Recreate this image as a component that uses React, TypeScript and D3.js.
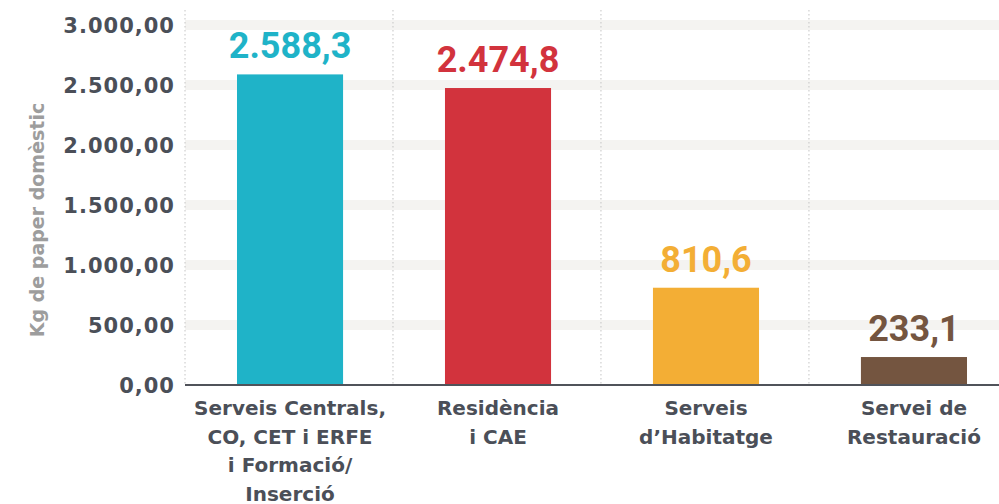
import React from 'react'
import { scaleBand, scaleLinear, formatLocale } from 'd3'

const categories = [
  ['Serveis Centrals,', 'CO, CET i ERFE', 'i Formació/', 'Inserció'],
  ['Residència', 'i CAE'],
  ['Serveis', 'd’Habitatge'],
  ['Servei de', 'Restauració'],
]
const values = [2588.3, 2474.8, 810.6, 233.1]
const colors = ['#1fb3c8', '#d2333d', '#f3ae35', '#745540']
const yTicks = [0, 500, 1000, 1500, 2000, 2500, 3000]
const yTitle = 'Kg de paper domèstic'

const W = 999
const H = 504
const margin = { left: 185, right: -20, top: 25, bottom: 119 }

const caLocale = formatLocale({
  decimal: ',',
  thousands: '.',
  grouping: [3],
  currency: ['', ' €'],
})
const tickFmt = caLocale.format(',.2f')
const valueFmt = caLocale.format(',.1f')

const textGray = '#4b4f58'
const font = '"DejaVu Sans", sans-serif'

export default function App() {
  const x = scaleBand<number>()
    .domain(values.map((_, i) => i))
    .range([margin.left, W - margin.right])
    .paddingInner(0.49)
    .paddingOuter(0.25)
  const y = scaleLinear()
    .domain([0, 3000])
    .range([H - margin.bottom, margin.top])

  const step = x.step()
  const x0 = margin.left

  return (
    <svg
      width={W}
      height={H}
      style={{ position: 'absolute', left: 0, top: 0 }}
    >
      {/* grid bands */}
      {yTicks.slice(1).map((t) => (
        <rect
          key={t}
          x={x0}
          y={y(t) - 5}
          width={W - x0}
          height={10}
          fill="#f4f3f1"
        />
      ))}
      {/* dotted separators */}
      {values.map((_, i) => (
        <line
          key={i}
          x1={x0 + i * step}
          x2={x0 + i * step}
          y1={10}
          y2={y(0)}
          stroke="#c4c4c4"
          strokeWidth={1}
          strokeDasharray="1.5,2.5"
        />
      ))}
      {/* bars */}
      {values.map((v, i) => (
        <rect
          key={i}
          x={x(i)}
          y={y(v)}
          width={x.bandwidth()}
          height={y(0) - y(v)}
          fill={colors[i]}
        />
      ))}
      {/* value labels */}
      {values.map((v, i) => (
        <text
          key={i}
          x={x(i)! + x.bandwidth() / 2}
          y={y(v) - 16}
          textAnchor="middle"
          fill={colors[i]}
          fontFamily='"Liberation Sans Narrow", "Roboto", sans-serif'
          fontWeight="bold"
          fontSize={36}
        >
          {valueFmt(v)}
        </text>
      ))}
      {/* baseline */}
      <line x1={x0} x2={W} y1={y(0)} y2={y(0)} stroke="#50535a" strokeWidth={2} />
      {/* y ticks */}
      {yTicks.map((t) => (
        <text
          key={t}
          x={175}
          y={y(t)}
          dy="0.36em"
          textAnchor="end"
          fill={textGray}
          fontFamily={font}
          fontWeight="bold"
          fontSize={21}
          letterSpacing={1}
        >
          {tickFmt(t)}
        </text>
      ))}
      {/* y title */}
      <text
        transform={`translate(44, ${(y(0) + y(3000)) / 2 + 15}) rotate(-90)`}
        textAnchor="middle"
        fill="#9d9d9d"
        fontFamily={font}
        fontWeight="bold"
        fontSize={19}
      >
        {yTitle}
      </text>
      {/* x labels */}
      {categories.map((lines, i) => (
        <text
          key={i}
          x={x(i)! + x.bandwidth() / 2}
          y={y(0) + 30}
          textAnchor="middle"
          fill={textGray}
          fontFamily={font}
          fontWeight="bold"
          fontSize={20}
        >
          {lines.map((l, j) => (
            <tspan key={j} x={x(i)! + x.bandwidth() / 2} dy={j === 0 ? 0 : 28.5}>
              {l}
            </tspan>
          ))}
        </text>
      ))}
    </svg>
  )
}
